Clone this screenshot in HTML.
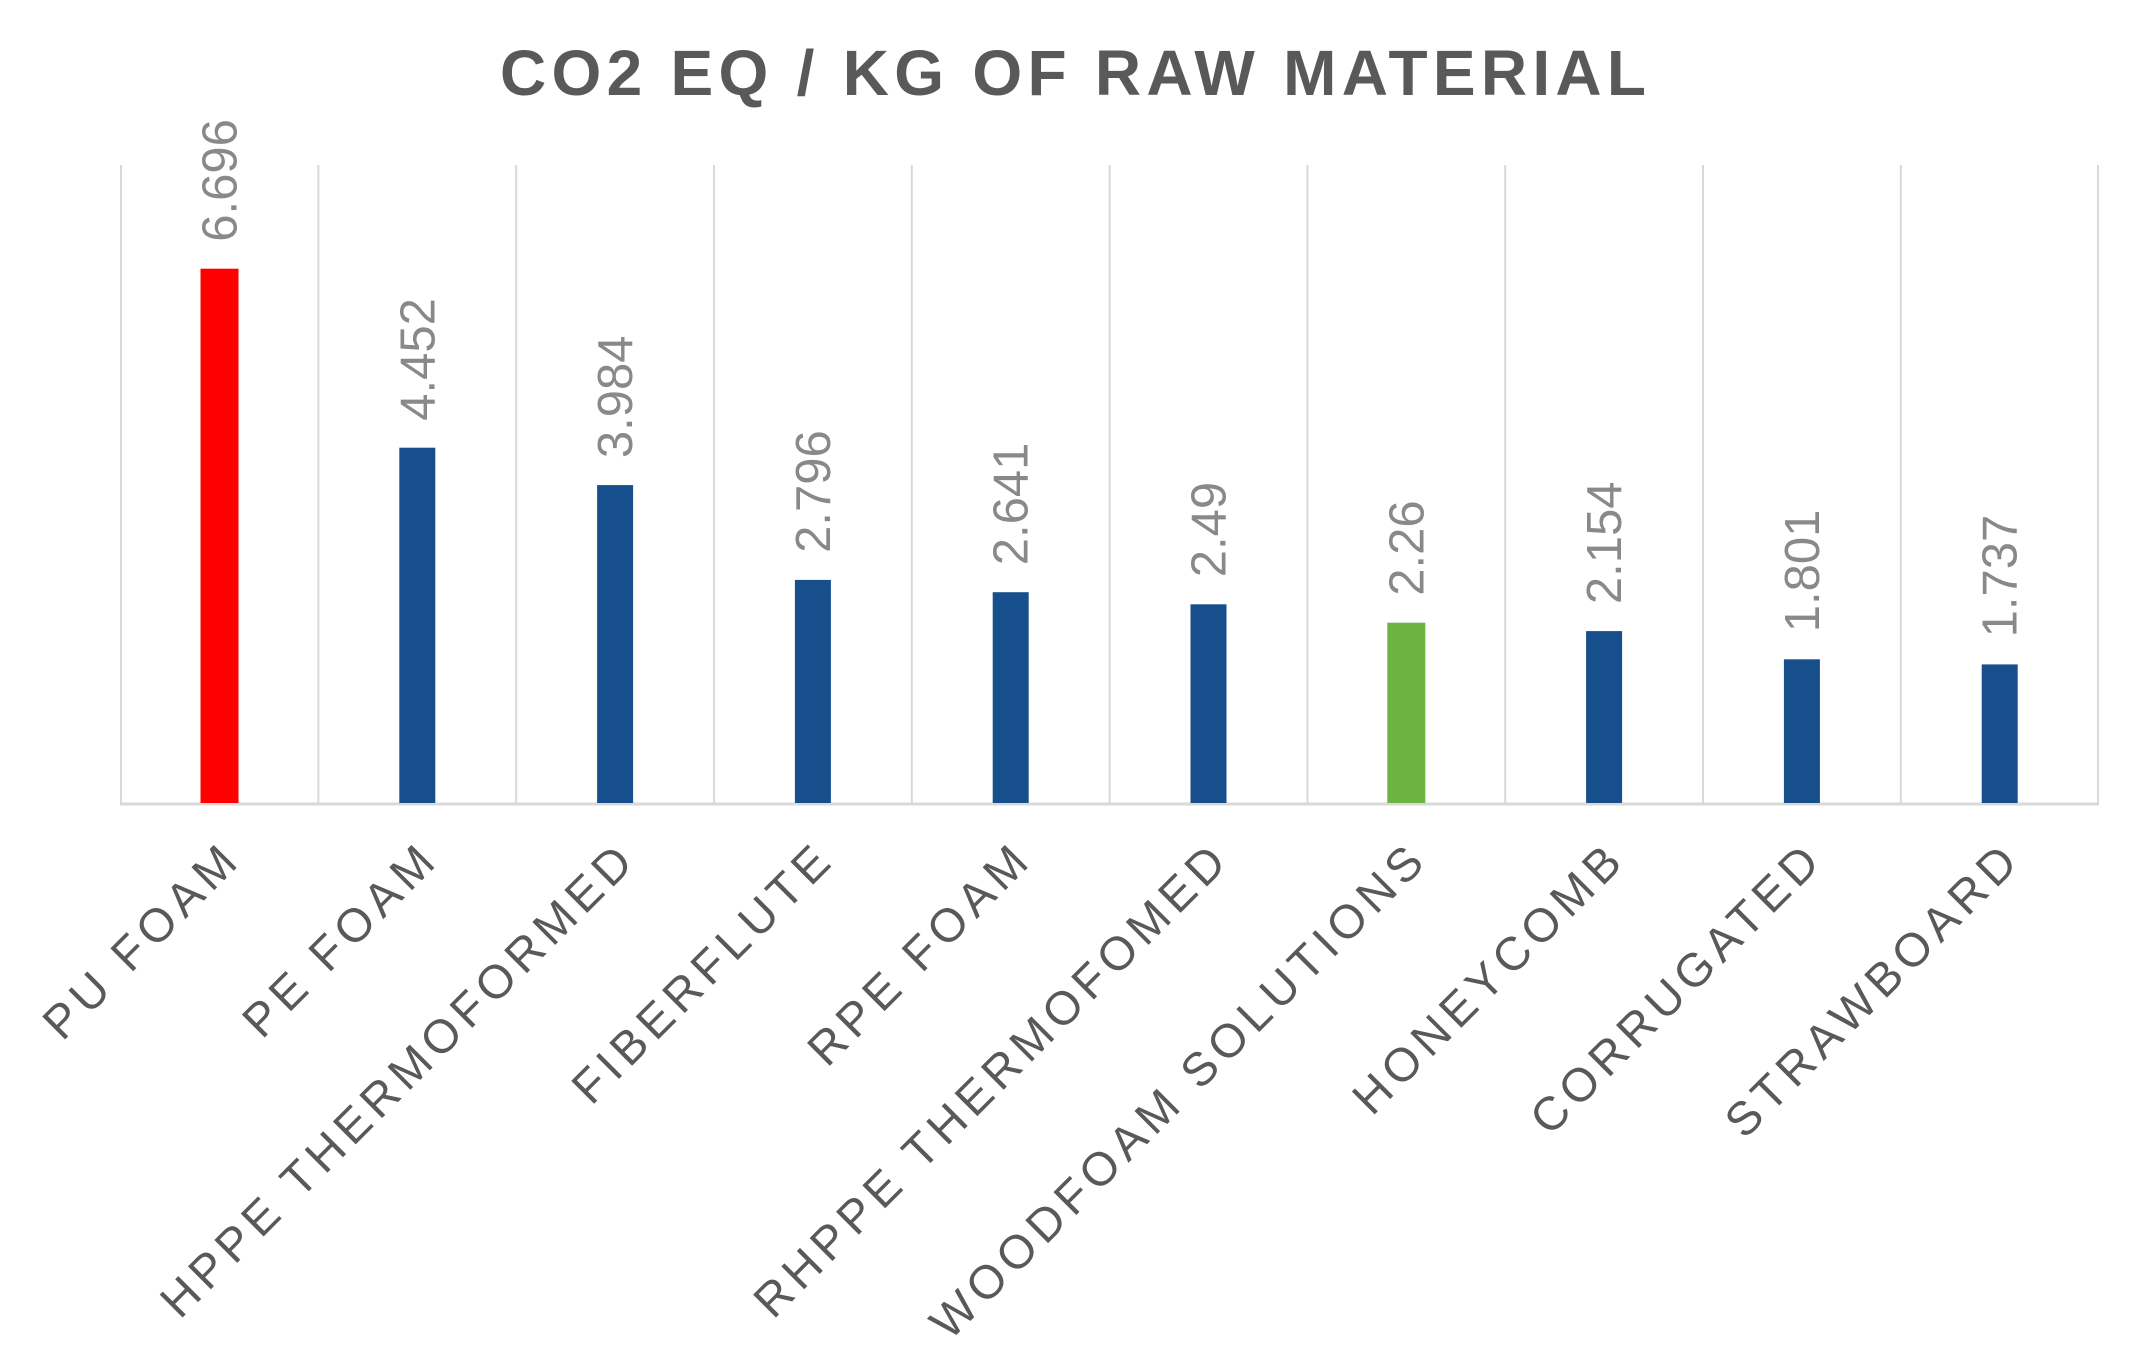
<!DOCTYPE html>
<html><head><meta charset="utf-8"><style>html,body{margin:0;padding:0;background:#fff;}svg{display:block}</style></head>
<body>
<svg width="2150" height="1363" viewBox="0 0 2150 1363" xmlns="http://www.w3.org/2000/svg" font-family="Liberation Sans, Arial, sans-serif">
<rect width="2150" height="1363" fill="#fff"/>
<text x="500" y="95" font-size="64" font-weight="bold" fill="#595959" textLength="1146" lengthAdjust="spacing">CO2 EQ / KG OF RAW MATERIAL</text>
<g stroke="#d9d9d9" stroke-width="2">
<line x1="121" y1="165" x2="121" y2="803"/>
<line x1="318.4" y1="165" x2="318.4" y2="803"/>
<line x1="516.2" y1="165" x2="516.2" y2="803"/>
<line x1="714" y1="165" x2="714" y2="803"/>
<line x1="911.8" y1="165" x2="911.8" y2="803"/>
<line x1="1109.6" y1="165" x2="1109.6" y2="803"/>
<line x1="1307.4" y1="165" x2="1307.4" y2="803"/>
<line x1="1505.2" y1="165" x2="1505.2" y2="803"/>
<line x1="1703" y1="165" x2="1703" y2="803"/>
<line x1="1900.8" y1="165" x2="1900.8" y2="803"/>
<line x1="2098" y1="165" x2="2098" y2="803"/>
</g>
<line x1="120" y1="804" x2="2099" y2="804" stroke="#d9d9d9" stroke-width="3"/>
<rect x="200.5" y="268.7" width="38" height="534.3" fill="#ff0000"/>
<rect x="399.3" y="447.7" width="36" height="355.3" fill="#164f8c"/>
<rect x="597.1" y="485.1" width="36" height="317.9" fill="#164f8c"/>
<rect x="794.9" y="579.9" width="36" height="223.1" fill="#164f8c"/>
<rect x="992.7" y="592.2" width="36" height="210.8" fill="#164f8c"/>
<rect x="1190.5" y="604.3" width="36" height="198.7" fill="#164f8c"/>
<rect x="1387.3" y="622.7" width="38" height="180.3" fill="#6db33f"/>
<rect x="1586.1" y="631.1" width="36" height="171.9" fill="#164f8c"/>
<rect x="1783.9" y="659.3" width="36" height="143.7" fill="#164f8c"/>
<rect x="1981.7" y="664.4" width="36" height="138.6" fill="#164f8c"/>
<g font-size="49" fill="#898989">
<text transform="translate(236.5,241.7) rotate(-90)">6.696</text>
<text transform="translate(434.3,420.7) rotate(-90)">4.452</text>
<text transform="translate(632.1,458.1) rotate(-90)">3.984</text>
<text transform="translate(829.9,552.9) rotate(-90)">2.796</text>
<text transform="translate(1027.7,565.2) rotate(-90)">2.641</text>
<text transform="translate(1225.5,577.3) rotate(-90)">2.49</text>
<text transform="translate(1423.3,595.7) rotate(-90)">2.26</text>
<text transform="translate(1621.1,604.1) rotate(-90)">2.154</text>
<text transform="translate(1818.9,632.3) rotate(-90)">1.801</text>
<text transform="translate(2016.7,637.4) rotate(-90)">1.737</text>
</g>
<g font-size="47" fill="#595959" text-anchor="end" letter-spacing="6">
<text transform="translate(243.5,861) rotate(-45)">PU FOAM</text>
<text transform="translate(441.3,861) rotate(-45)">PE FOAM</text>
<text transform="translate(639.1,861) rotate(-45)">HPPE THERMOFORMED</text>
<text transform="translate(836.9,861) rotate(-45)">FIBERFLUTE</text>
<text transform="translate(1034.7,861) rotate(-45)">RPE FOAM</text>
<text transform="translate(1232.5,861) rotate(-45)">RHPPE THERMOFOMED</text>
<text transform="translate(1430.3,861) rotate(-45)">WOODFOAM SOLUTIONS</text>
<text transform="translate(1628.1,861) rotate(-45)">HONEYCOMB</text>
<text transform="translate(1825.9,861) rotate(-45)">CORRUGATED</text>
<text transform="translate(2023.7,861) rotate(-45)">STRAWBOARD</text>
</g>
</svg>
</body></html>
